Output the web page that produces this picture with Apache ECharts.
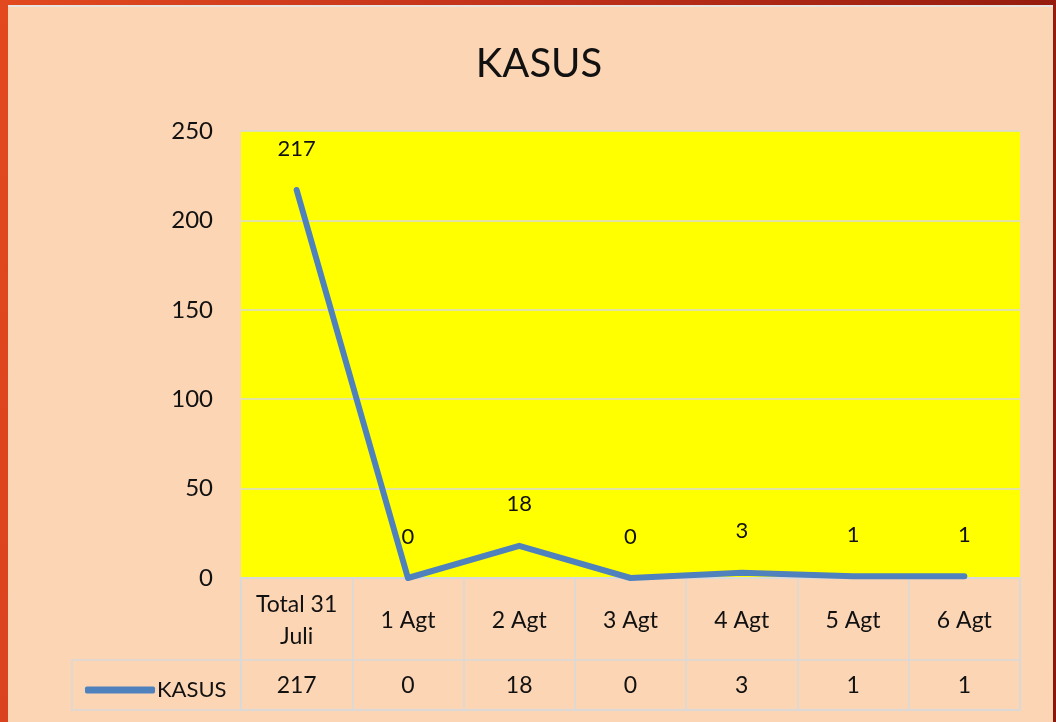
<!DOCTYPE html>
<html>
<head>
<meta charset="utf-8">
<script src="https://cdn.jsdelivr.net/npm/echarts@6/dist/echarts.min.js"></script>
<style>
  html, body { margin: 0; padding: 0; width: 1056px; height: 722px; overflow: hidden; }
  body { background: linear-gradient(100deg, #e2491f 0%, #c0311a 45%, #8a170b 100%); position: relative; }
  #panel { position: absolute; left: 8px; top: 5px; width: 1045px; height: 717px; background: #fcd5b5; border-top: 2px solid #e8e4e0; }
  #main { position: absolute; left: 0; top: 0; width: 1056px; height: 722px; }
</style>
</head>
<body>
<div id="panel"></div>
<div id="main"></div>
<script>
// kategori (sumbu x)
var categories = ['Total 31\nJuli', '1 Agt', '2 Agt', '3 Agt', '4 Agt', '5 Agt', '6 Agt'];
// jumlah kasus
var kasus = [217, 0, 18, 0, 3, 1, 1];
// label sumbu y
var yTicks = [0, 50, 100, 150, 200, 250];

var font = 'Lato, "Open Sans", sans-serif';
var gridColor = '#d9d9d9';

var myChart = echarts.init(document.getElementById('main'));
myChart.setOption({
    backgroundColor: 'transparent',
    title: {
        text: 'KASUS',
        left: 534,
        top: 39,
        textAlign: 'center',
        textStyle: { fontFamily: font, fontSize: 40, fontWeight: 'normal', color: '#111' }
    },
    legend: {
        data: ['KASUS'],
        left: 80,
        top: 674,
        icon: 'roundRect',
        itemWidth: 70,
        itemHeight: 7,
        textStyle: { fontFamily: font, fontSize: 22, color: '#111', padding: [0, 0, 0, -3] }
    },
    grid: [
        { left: 241, right: 36, top: 131, bottom: 144, show: true, backgroundColor: '#ffff00', borderWidth: 0 },
        { left: 241, width: 779, top: 578, height: 132, show: true, borderColor: gridColor, borderWidth: 1.5 }
    ],
    xAxis: [
        {
            gridIndex: 0,
            type: 'category',
            data: categories,
            position: 'bottom',
            axisLine: { lineStyle: { color: gridColor, width: 1.5 } },
            axisTick: { show: false },
            axisLabel: {
                margin: 43, verticalAlign: 'middle', lineHeight: 32,
                fontFamily: font, fontSize: 23, color: '#111', interval: 0
            }
        },
        {
            gridIndex: 0,
            type: 'category',
            data: kasus.map(String),
            position: 'bottom',
            axisLine: { show: false },
            axisTick: { show: false },
            axisLabel: {
                margin: 108, verticalAlign: 'middle',
                fontFamily: font, fontSize: 23, color: '#111', interval: 0
            }
        },
        {
            gridIndex: 1,
            type: 'category',
            data: categories,
            axisLine: { show: false },
            axisTick: { show: false },
            axisLabel: { show: false },
            splitLine: { show: true, interval: 0, lineStyle: { color: gridColor, width: 1.5 } }
        }
    ],
    yAxis: [
        {
            gridIndex: 0,
            type: 'value',
            min: yTicks[0],
            max: yTicks[yTicks.length - 1],
            interval: 50,
            axisLine: { show: false },
            axisTick: { show: false },
            axisLabel: { margin: 28, fontFamily: font, fontSize: 24, color: '#111' },
            splitLine: { lineStyle: { color: gridColor, width: 1.5 } }
        },
        {
            gridIndex: 1,
            type: 'value',
            inverse: true,
            min: 0,
            max: 132,
            interval: 82,
            axisLine: { show: false },
            axisTick: { show: false },
            axisLabel: { show: false },
            splitLine: { lineStyle: { color: gridColor, width: 1.5 } }
        }
    ],
    graphic: [{
        type: 'rect',
        shape: { x: 72, y: 660, width: 169, height: 50 },
        style: { fill: 'transparent', stroke: gridColor, lineWidth: 1.5 },
        z: 5
    }],
    series: [{
        name: 'KASUS',
        type: 'line',
        xAxisIndex: 0,
        yAxisIndex: 0,
        data: kasus,
        showSymbol: true,
        symbol: 'circle',
        symbolSize: 1,
        lineStyle: { color: '#4f81bd', width: 6, cap: 'round', join: 'round' },
        itemStyle: { color: '#4f81bd' },
        label: {
            show: true,
            position: 'top',
            distance: 30,
            fontFamily: font,
            fontSize: 22,
            color: '#111'
        }
    }]
});
</script>
</body>
</html>
